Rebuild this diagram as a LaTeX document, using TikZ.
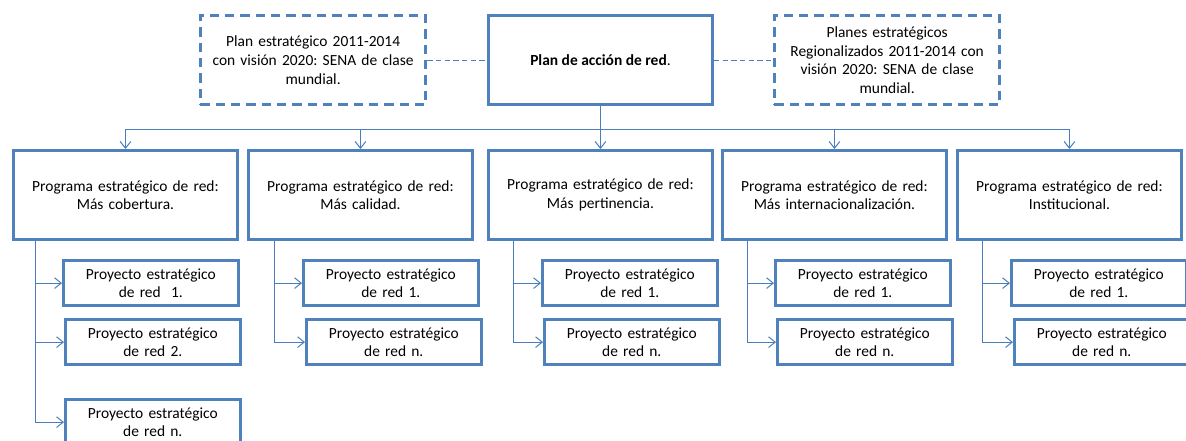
\documentclass[tikz,border=0pt]{standalone}
\usepackage{fontspec}
\setmainfont{Carlito}
\usetikzlibrary{positioning, calc, arrows.meta}
\definecolor{azul}{RGB}{79,129,189}
\definecolor{azulcon}{RGB}{74,126,187}
\frenchspacing

\begin{document}
\begin{tikzpicture}[x=0.75pt, y=-0.75pt,
        caja/.style={draw=azul, line width=2.2pt, fill=white, align=center, anchor=north west,
                     font=\fontsize{11.6}{14}\selectfont, inner sep=2pt},
        prog/.style={caja, minimum width=168pt, minimum height=67pt, text width=162pt},
        proy/.style={caja, minimum width=131pt, minimum height=34pt, text width=127pt},
        plan/.style={caja, dash pattern=on 7pt off 4.5pt, minimum width=169pt, minimum height=67pt, text width=163pt},
        conn/.style={draw=azulcon, line width=0.75pt, -{Straight Barb[length=5pt,width=8pt]}},
        liga/.style={draw=azulcon, line width=0.75pt, dash pattern=on 4pt off 2.5pt}]
        \useasboundingbox (0,0) rectangle (1186,441);

        % plan de accion y planes
        \node[caja, minimum width=168pt, minimum height=67pt] (main) at (487,14) {\textbf{Plan de acción de red}.};
        \node[plan] (pl) at (199,14) {Plan estratégico 2011-2014\\con visión 2020: SENA de clase\\mundial.};
        \node[plan] (pr) at (773,14) {Planes estratégicos\\Regionalizados 2011-2014 con\\visión 2020: SENA de clase\\mundial.};

        \draw[liga] (pl.east) -- (main.west);
        \draw[liga] (main.east) -- (pr.west);

        % programas
        \node[prog] (P1) at (12,149)  {Programa estratégico de red:\\Más cobertura.};
        \node[prog] (P2) at (247,149) {Programa estratégico de red:\\Más calidad.};
        \node[prog] (P3) at (487,149) {Programa estratégico de red:\\Más pertinencia.};
        \node[prog] (P4) at (721,149) {Programa estratégico de red:\\Más internacionalización.};
        \node[prog] (P5) at (956,149) {Programa estratégico de red:\\Institucional.};

        \coordinate (bus) at ($(main.south)+(0,23)$);
        \foreach \p in {P1,P2,P3,P4,P5}
            \draw[conn] (main.south) -- (bus) -| (\p.north);

        % proyectos
        \node[proy] (P1a) at (62,259)  {Proyecto estratégico\\de red\ \ 1.};
        \node[proy] (P1b) at (64,318)  {Proyecto estratégico\\de red 2.};
        \node[proy] (P1c) at (64,398)  {Proyecto estratégico\\de red n.};
        \node[proy] (P2a) at (302,259) {Proyecto estratégico\\de red 1.};
        \node[proy] (P2b) at (305,318) {Proyecto estratégico\\de red n.};
        \node[proy] (P3a) at (541,259) {Proyecto estratégico\\de red 1.};
        \node[proy] (P3b) at (543,318) {Proyecto estratégico\\de red n.};
        \node[proy] (P4a) at (774,259) {Proyecto estratégico\\de red 1.};
        \node[proy] (P4b) at (776,318) {Proyecto estratégico\\de red n.};
        \node[proy] (P5a) at (1010,259) {Proyecto estratégico\\de red 1.};
        \node[proy] (P5b) at (1013,318) {Proyecto estratégico\\de red n.};

        \coordinate (b1) at ($(P1.south west)+(23,0)$);
        \coordinate (b2) at ($(P2.south west)+(27,0)$);
        \coordinate (b3) at ($(P3.south west)+(26,0)$);
        \coordinate (b4) at ($(P4.south west)+(26,0)$);
        \coordinate (b5) at ($(P5.south west)+(26,0)$);

        \foreach \p in {P1a,P1b,P1c} \draw[conn] (b1) |- (\p.west);
        \foreach \p in {P2a,P2b} \draw[conn] (b2) |- (\p.west);
        \foreach \p in {P3a,P3b} \draw[conn] (b3) |- (\p.west);
        \foreach \p in {P4a,P4b} \draw[conn] (b4) |- (\p.west);
        \foreach \p in {P5a,P5b} \draw[conn] (b5) |- (\p.west);
    \end{tikzpicture}
\end{document}
